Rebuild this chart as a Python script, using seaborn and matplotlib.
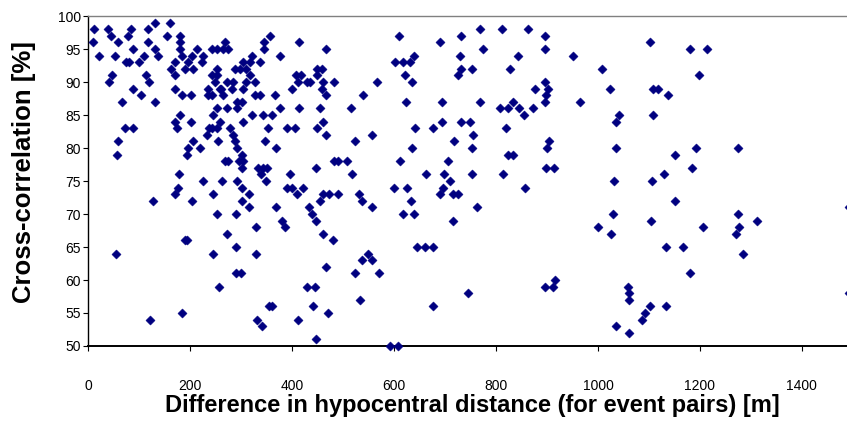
import matplotlib
matplotlib.use("Agg")
import matplotlib.pyplot as plt
import numpy as np
import pandas as pd
import seaborn as sns

# Event-pair measurements: difference in hypocentral distance [m] and
# waveform cross-correlation [%], grouped by distance/correlation band.
dist_a = [10, 8, 21, 39, 44, 59, 52, 83, 78, 88,
          73, 80, 100, 110, 116, 116, 131, 131, 136, 160,
          154, 180, 180, 180, 183, 203, 213, 225, 196, 206,
          222, 170, 162, 170, 190, 47, 40, 112, 119, 88,
          103, 65, 130, 169, 183, 201, 234, 180, 170, 173,
          201, 72, 88, 59, 56, 206, 196, 193, 219, 232,
          236, 178, 235, 258]
corr_a = [98, 96, 94, 98, 97, 96, 94, 98, 97, 95,
          93, 93, 93, 94, 98, 96, 99, 95, 94, 99,
          97, 97, 96, 95, 94, 94, 95, 94, 93, 92,
          93, 93, 92, 91, 92, 91, 90, 91, 90, 89,
          88, 87, 87, 89, 88, 88, 88, 85, 84, 83,
          84, 83, 83, 81, 79, 81, 80, 79, 80, 82,
          83, 76, 89, 89]

dist_b = [356, 345, 345, 414, 376, 466, 268, 265, 274, 252,
          242, 320, 337, 304, 317, 288, 297, 310, 317, 252,
          242, 252, 248, 271, 284, 310, 327, 261, 281, 304,
          399, 407, 418, 412, 428, 435, 448, 458, 448, 461,
          481, 458, 467, 327, 337, 366, 265, 242, 252, 271,
          291, 301, 291, 376, 414, 454, 245, 258, 252, 242,
          304, 320, 343, 360, 353, 389, 405, 448, 461, 467,
          278, 284, 288, 291, 301, 304, 296, 301, 255, 346,
          369, 268, 274, 333, 343, 350, 396, 447, 481, 489]
corr_b = [97, 96, 95, 96, 94, 95, 96, 95, 95, 95,
          95, 94, 93, 93, 93, 92, 92, 92, 91, 92,
          91, 91, 90, 90, 90, 90, 90, 89, 89, 89,
          89, 91, 91, 90, 90, 90, 91, 92, 92, 90,
          90, 89, 88, 88, 88, 88, 88, 88, 86, 86,
          86, 87, 87, 86, 86, 86, 85, 84, 83, 83,
          84, 85, 85, 85, 83, 83, 83, 83, 84, 82,
          83, 82, 81, 80, 79, 78, 78, 77, 81, 81,
          80, 78, 78, 77, 77, 77, 76, 77, 78, 78]

dist_c = [610, 689, 732, 639, 730, 601, 618, 631, 621, 635,
          726, 732, 566, 539, 515, 623, 694, 693, 677, 641,
          732, 556, 523, 634, 718, 507, 611, 706, 518, 662,
          698, 709]
corr_c = [97, 96, 97, 94, 94, 93, 93, 93, 91, 90,
          91, 92, 90, 88, 86, 87, 87, 84, 83, 83,
          84, 82, 81, 80, 81, 78, 78, 78, 76, 76,
          76, 75]

dist_d = [768, 811, 863, 896, 775, 843, 896, 951, 1102, 752,
          827, 1007, 896, 876, 902, 898, 896, 1023, 1108, 1118,
          768, 807, 824, 834, 845, 855, 872, 964, 1042, 1035,
          1108, 749, 819, 754, 904, 900, 752, 824, 834, 1035,
          898, 914, 752, 813, 1031, 1105]
corr_d = [98, 98, 98, 97, 95, 94, 95, 94, 96, 92,
          92, 92, 90, 89, 89, 88, 87, 89, 89, 89,
          87, 86, 86, 87, 86, 85, 86, 87, 85, 84,
          85, 84, 83, 82, 81, 80, 80, 79, 79, 80,
          77, 77, 76, 76, 75, 75]

dist_e = [1180, 1213, 1198, 1138, 1192, 1275, 1151, 1184, 1130]
corr_e = [95, 95, 91, 88, 80, 80, 79, 77, 76]

dist_f = [224, 263, 292, 301, 348, 339, 176, 169, 127, 203,
          245, 301, 315, 315, 252, 289, 328, 272, 190, 193,
          55, 245, 289, 328, 289, 299, 257, 183, 121, 354,
          331, 341]
corr_f = [75, 75, 75, 74, 75, 76, 74, 73, 72, 72,
          73, 72, 73, 71, 70, 70, 68, 67, 66, 66,
          64, 64, 65, 64, 61, 61, 59, 55, 54, 56,
          54, 53]

dist_g = [389, 399, 422, 409, 461, 473, 490, 454, 530, 536,
          556, 369, 432, 438, 447, 379, 386, 461, 479, 600,
          626, 633, 618, 639, 695, 689, 715, 726, 715, 644,
          660, 677, 549, 556, 536, 467, 523, 570, 428, 445,
          532, 360, 440, 470, 412, 447, 592, 608, 677]
corr_g = [74, 74, 74, 73, 73, 73, 73, 72, 73, 72,
          71, 71, 71, 70, 69, 69, 68, 67, 66, 74,
          74, 72, 70, 70, 74, 73, 73, 73, 69, 65,
          65, 65, 64, 63, 63, 62, 61, 61, 59, 59,
          57, 56, 56, 55, 54, 51, 50, 50, 56]

dist_h = [857, 762, 1029, 1103, 999, 1025, 744, 896, 911, 916,
          1058, 1061, 1061, 1102, 1092, 1086, 1035, 1061]
corr_h = [74, 71, 70, 69, 68, 67, 58, 59, 59, 60,
          59, 58, 57, 56, 55, 54, 53, 52]

dist_i = [1151, 1275, 1277, 1271, 1312, 1206, 1133, 1167, 1284, 1180,
          1133, 1492, 1492]
corr_i = [72, 70, 68, 67, 69, 68, 65, 65, 64, 61,
          56, 71, 58]

x_ticks = [0, 200, 400, 600, 800, 1000, 1200, 1400]
y_ticks = [50, 55, 60, 65, 70, 75, 80, 85, 90, 95, 100]

distance = dist_a + dist_b + dist_c + dist_d + dist_e + dist_f + dist_g + dist_h + dist_i
xcorr = corr_a + corr_b + corr_c + corr_d + corr_e + corr_f + corr_g + corr_h + corr_i
df = pd.DataFrame({"distance": distance, "xcorr": xcorr})

sns.set_style("white")
plt.rcParams["font.family"] = ["Liberation Sans", "DejaVu Sans"]
plt.rcParams["text.color"] = "black"
plt.rcParams["axes.labelcolor"] = "black"
plt.rcParams["xtick.color"] = "black"
plt.rcParams["ytick.color"] = "black"

fig = plt.figure(figsize=(8.47, 4.26), dpi=100)
ax = fig.add_axes([0.1044, 0.1878, 0.9025, 0.7746])

sns.scatterplot(data=df, x="distance", y="xcorr", ax=ax, marker="D", s=22,
                color="#000080", edgecolor="#000080", linewidth=0.3,
                clip_on=False, zorder=3)

ax.set_xlim(0, 1500)
ax.set_ylim(50, 100)
ax.set_xticks(x_ticks)
ax.set_yticks(y_ticks)
ax.set_xticklabels([str(v) for v in x_ticks])
ax.set_yticklabels([str(v) for v in y_ticks])

for side in ("left", "bottom"):
    ax.spines[side].set_color("black")
    ax.spines[side].set_linewidth(1.0)
ax.spines["bottom"].set_linewidth(1.4)
ax.spines["top"].set_color("#808080")
ax.spines["top"].set_linewidth(1.0)
ax.spines["right"].set_visible(False)

ax.tick_params(axis="both", direction="out", length=3.5, width=0.8,
               colors="black", labelsize=10)
ax.tick_params(axis="y", pad=2, left=True)
ax.tick_params(axis="x", pad=20, bottom=True)

ax.set_xlabel("Difference in hypocentral distance (for event pairs) [m]",
              fontsize=17, fontweight="bold", color="black")
ax.set_ylabel("Cross-correlation [%]", fontsize=18.5, fontweight="bold",
              color="black")
ax.xaxis.label.set_va("center")
ax.yaxis.label.set_va("center")
ax.xaxis.set_label_coords(0.502, -0.179)
ax.yaxis.set_label_coords(-0.0845, 0.527)

fig.savefig("out.png", dpi=100)
